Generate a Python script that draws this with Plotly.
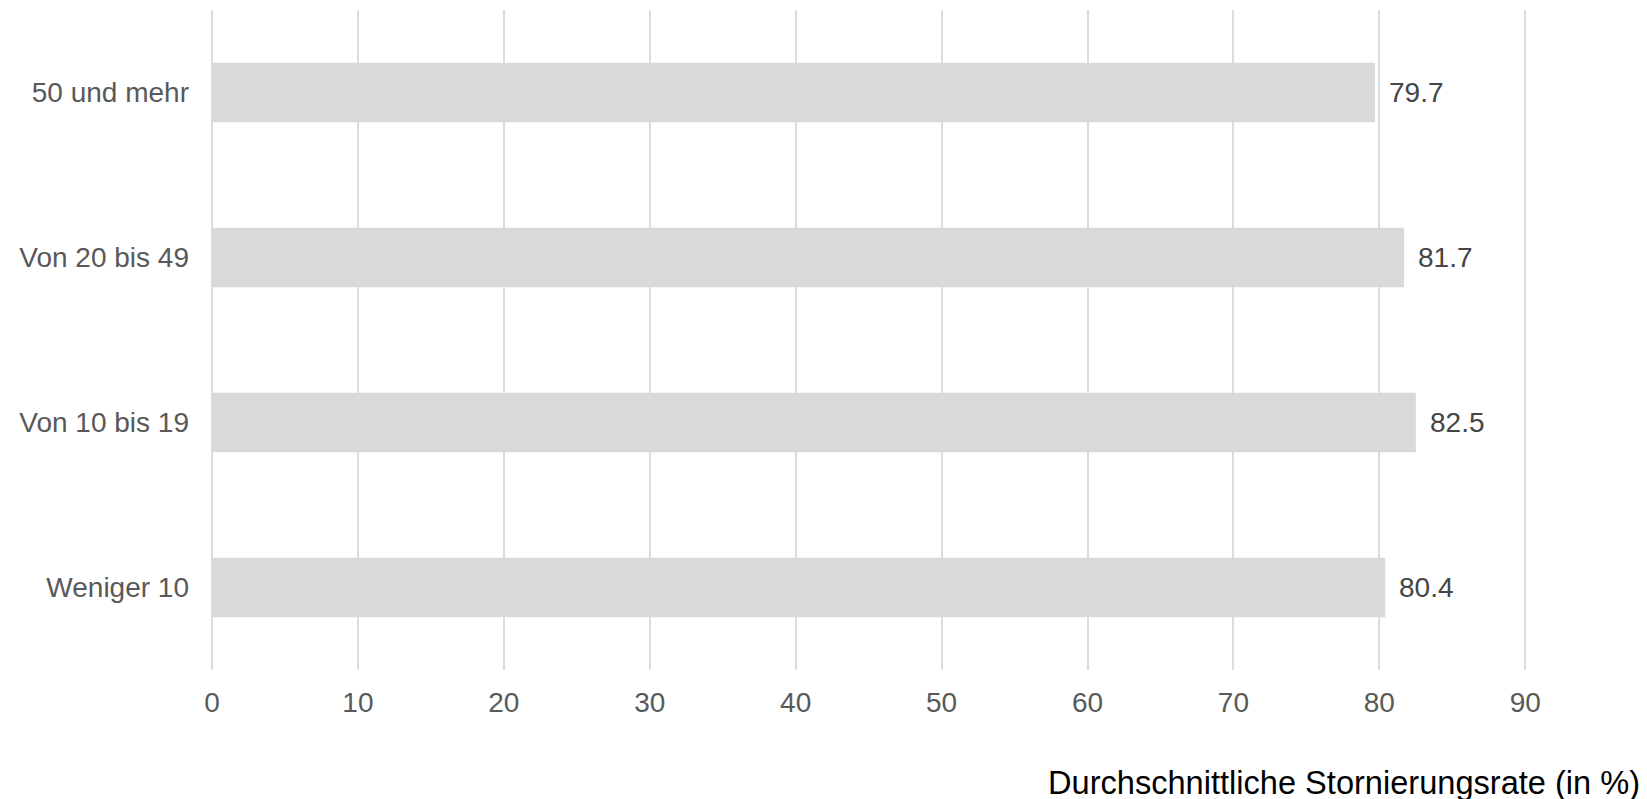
import plotly.graph_objects as go

categories = ["Weniger 10", "Von 10 bis 19", "Von 20 bis 49", "50 und mehr"]
values = [80.4, 82.5, 81.7, 79.7]
value_labels = ["80.4", "82.5", "81.7", "79.7"]
x_ticks = [0, 10, 20, 30, 40, 50, 60, 70, 80, 90]
x_title = "Durchschnittliche Stornierungsrate (in %)"

FONT = "Liberation Sans, Arial, sans-serif"
GRID = "#dcdcdc"

fig = go.Figure()
fig.add_trace(go.Bar(
    x=values, y=categories, orientation="h",
    marker=dict(color="#d9d9d9", line=dict(width=0)),
    width=0.36, hoverinfo="x+y",
))

for c, v, t in zip(categories, values, value_labels):
    fig.add_annotation(x=v, y=c, xref="x", yref="y", text=t, showarrow=False,
                       xanchor="left", yanchor="middle", xshift=12,
                       font=dict(family=FONT, size=28, color="#454545"))

fig.add_annotation(x=1, y=0, xref="paper", yref="paper", text=x_title,
                   showarrow=False, xanchor="right", yanchor="middle", yshift=-112,
                   font=dict(family=FONT, size=32.6, color="#000000"))

fig.update_layout(
    width=1639, height=791,
    margin=dict(l=204, r=5, t=2, b=129),
    plot_bgcolor="white", paper_bgcolor="white",
    showlegend=False,
    font=dict(family=FONT),
    xaxis=dict(range=[0, 98.0], tickvals=x_ticks, showgrid=True, gridcolor=GRID, gridwidth=1.5,
               zeroline=True, zerolinecolor=GRID, zerolinewidth=1.5, showline=False,
               ticks="", ticklabelstandoff=13,
               tickfont=dict(family=FONT, size=28, color="#595959")),
    yaxis=dict(categoryorder="array", categoryarray=categories, range=[-0.5, 3.5],
               showgrid=False, zeroline=False, showline=False, ticks="",
               ticklabelstandoff=22,
               tickfont=dict(family=FONT, size=28, color="#595959")),
)

fig.write_html("out.html")
